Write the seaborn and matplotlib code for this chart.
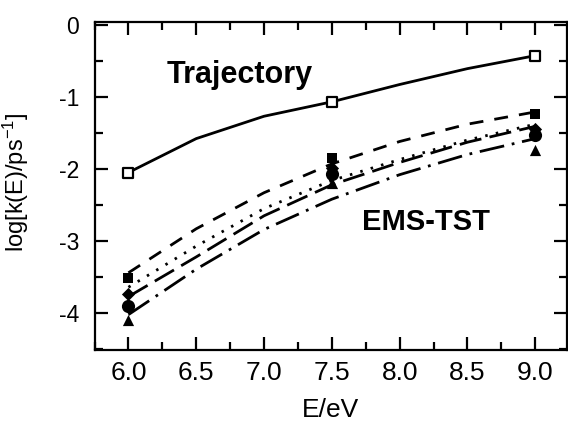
import matplotlib
matplotlib.use("Agg")
import matplotlib.pyplot as plt
import seaborn as sns
import numpy as np
from matplotlib.ticker import MultipleLocator

# ---- data ----
E_pts = [6.0, 7.5, 9.0]
traj_pts = [-2.05, -1.07, -0.43]
square_pts = [-3.51, -1.85, -1.24]
diamond_pts = [-3.73, -1.99, -1.44]
circle_pts = [-3.90, -2.07, -1.53]
triangle_pts = [-4.09, -2.19, -1.74]

E_line = [6.0, 6.5, 7.0, 7.5, 8.0, 8.5, 9.0]
traj_line = [-2.05, -1.58, -1.27, -1.07, -0.83, -0.61, -0.43]
dashed_line = [-3.44, -2.83, -2.33, -1.93, -1.62, -1.38, -1.21]
dotted_line = [-3.64, -3.07, -2.55, -2.16, -1.87, -1.60, -1.38]
longdash_line = [-3.77, -3.22, -2.65, -2.22, -1.91, -1.63, -1.41]
dashdot_line = [-4.02, -3.39, -2.84, -2.42, -2.08, -1.80, -1.58]

x_ticklabels = ["6.0", "6.5", "7.0", "7.5", "8.0", "8.5", "9.0"]
y_ticklabels = ["-4", "-3", "-2", "-1", "0"]

sns.set_style("ticks")
plt.rcParams["font.family"] = ["Liberation Sans", "DejaVu Sans"]
plt.rcParams["mathtext.fontset"] = "custom"
plt.rcParams["mathtext.rm"] = "Liberation Sans"
plt.rcParams["mathtext.default"] = "regular"
for k in ["text.color", "axes.labelcolor", "xtick.color", "ytick.color", "axes.edgecolor"]:
    plt.rcParams[k] = "black"

fig = plt.figure(figsize=(5.68, 4.23), dpi=100)
ax = fig.add_axes([0.1664, 0.1726, 0.8313, 0.776])

lw = 2.0
sns.lineplot(x=E_line, y=traj_line, ax=ax, color="black", lw=lw, linestyle="-")
sns.lineplot(x=E_line, y=dashed_line, ax=ax, color="black", lw=lw, linestyle=(0, (5.0, 4.0)))
sns.lineplot(x=E_line, y=dotted_line, ax=ax, color="black", lw=lw, linestyle=(0, (0.9, 3.0)))
sns.lineplot(x=E_line, y=longdash_line, ax=ax, color="black", lw=lw, linestyle=(0, (8, 3)))
sns.lineplot(x=E_line, y=dashdot_line, ax=ax, color="black", lw=lw, linestyle=(0, (9, 2.8, 1, 2.8)))

sns.scatterplot(x=E_pts, y=traj_pts, ax=ax, marker="s", s=55, facecolor="white",
                edgecolor="black", linewidth=1.6, zorder=5)
sns.scatterplot(x=E_pts, y=square_pts, ax=ax, marker="s", s=45, color="black",
                edgecolor="black", linewidth=0, zorder=5)
sns.scatterplot(x=E_pts, y=diamond_pts, ax=ax, marker="D", s=45, color="black",
                edgecolor="black", linewidth=0, zorder=5)
sns.scatterplot(x=E_pts, y=circle_pts, ax=ax, marker="o", s=90, color="black",
                edgecolor="black", linewidth=0, zorder=5)
sns.scatterplot(x=E_pts, y=triangle_pts, ax=ax, marker="^", s=65, color="black",
                edgecolor="black", linewidth=0, zorder=5)

ax.set_xlim(5.75, 9.232)
ax.set_ylim(-4.51, 0.04)

ax.set_xticks([float(t) for t in x_ticklabels])
ax.set_xticklabels(x_ticklabels, fontsize=19)
ax.set_yticks([float(t) for t in y_ticklabels])
ax.set_yticklabels(y_ticklabels, fontsize=16.5)
ax.xaxis.set_minor_locator(MultipleLocator(0.25))
ax.yaxis.set_minor_locator(MultipleLocator(0.5))

ax.tick_params(which="both", direction="in", top=True, right=True, width=1.6, color="black")
ax.tick_params(which="major", length=9.5)
ax.tick_params(which="minor", length=5.5)
ax.tick_params(axis="x", which="major", pad=8)
ax.tick_params(axis="y", which="major", pad=11)

for sp in ax.spines.values():
    sp.set_visible(True)
    sp.set_linewidth(1.6)
    sp.set_color("black")

ax.set_xlabel("E/eV", fontsize=19)
ax.set_ylabel("log[k(E)/ps$^{-1}$]", fontsize=17)
ax.xaxis.set_label_coords(0.5, -0.145)
ax.yaxis.set_label_coords(-0.135, 0.51)

ax.text(6.285, -0.70, "Trajectory", fontsize=22, fontweight="bold", ha="left", va="center")
ax.text(7.72, -2.74, "EMS-TST", fontsize=21, fontweight="bold", ha="left", va="center")

fig.savefig("out.png", dpi=100)
